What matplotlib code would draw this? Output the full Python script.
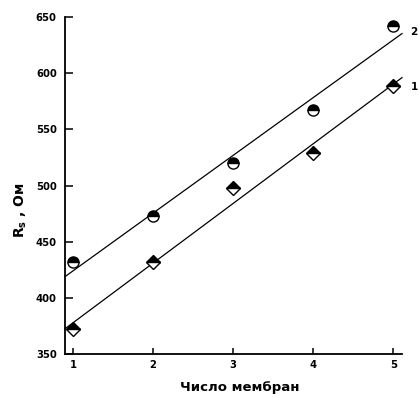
import numpy as np
import matplotlib
matplotlib.use("Agg")
import matplotlib.pyplot as plt

plt.rcParams['font.family'] = ['DejaVu Sans']
plt.rcParams['font.weight'] = 'bold'
plt.rcParams['mathtext.default'] = 'bf'

membranes = [1, 2, 3, 4, 5]
series1 = [372, 432, 498, 529, 589]
series2 = [432, 473, 520, 567, 642]
series_labels = ["1", "2"]
label_pos = [(5.215, 588), (5.215, 637)]
xticks = [1, 2, 3, 4, 5]
yticks = [350, 400, 450, 500, 550, 600, 650]

W, H = 419, 397
fig = plt.figure(figsize=(W / 100, H / 100), dpi=100)
ax = fig.add_axes([65 / W, 1 - 354 / H, (402 - 65) / W, (354 - 17) / H])

xmin, xmax = 0.9, 5.11
ax.set_xlim(xmin, xmax)
ax.set_ylim(350, 650)

xs = np.array(membranes, dtype=float)
xl = np.array([xmin, xmax])
for ys, mk, lab, pos in [(series1, 'D', series_labels[0], label_pos[0]),
                         (series2, 'o', series_labels[1], label_pos[1])]:
    k, b = np.polyfit(xs, ys, 1)
    ax.plot(xl, k * xl + b, color='black', lw=0.9, clip_on=False, zorder=2)
    ax.plot(xs, ys, linestyle='none', marker=mk, markersize=8 if mk == 'o' else 7,
            fillstyle='top', markerfacecolor='black', markerfacecoloralt='white',
            markeredgecolor='black', markeredgewidth=1.0, clip_on=False, zorder=3)
    ax.text(pos[0], pos[1], lab, fontsize=7.5, fontweight='bold', va='center', ha='left',
            clip_on=False)

for s in ['top', 'right']:
    ax.spines[s].set_visible(False)
for s in ['left', 'bottom']:
    ax.spines[s].set_linewidth(1.3)

ax.set_xticks(xticks)
ax.set_yticks(yticks)
ax.tick_params(axis='y', direction='in', length=5.8, width=1.1, labelsize=7.2, pad=6)
ax.tick_params(axis='x', direction='in', length=4.3, width=1.1, labelsize=7.2, pad=4)
for t in ax.get_xticklabels() + ax.get_yticklabels():
    t.set_fontweight('bold')

ax.set_xlabel("Число мембран", fontsize=9.5, fontweight='bold')
ax.xaxis.set_label_coords((240 - 65) / 337, (354 - 381) / 337)
ax.set_ylabel(r"R$_{s}$ , Ом", fontsize=10, fontweight='bold')
ax.yaxis.set_label_coords((29 - 65) / 337, (354 - 210) / 337)

fig.savefig("out.png", dpi=100)
